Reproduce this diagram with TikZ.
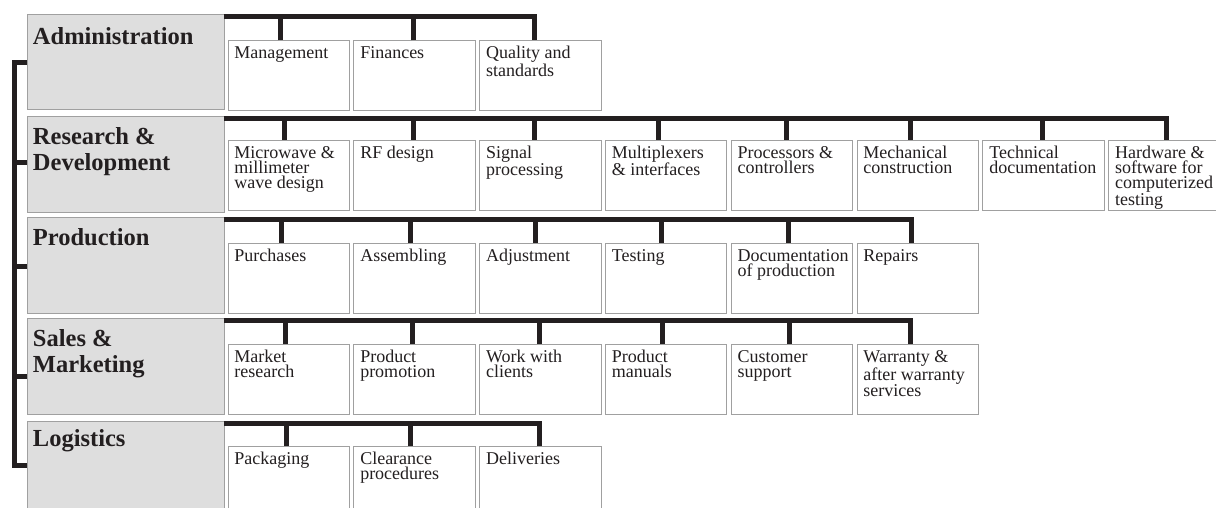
\documentclass[tikz,border=0pt]{standalone}
\usepackage{fontspec}
\setmainfont{Liberation Serif}
\definecolor{ink}{HTML}{231F20}
\definecolor{headgray}{HTML}{DEDEDE}
\definecolor{boxline}{HTML}{A0A0A0}
\newcommand\ctext[1]{\parbox[t][62.5pt][t]{108.5pt}{\raggedright\rule{0pt}{14.5pt}#1}}
\newcommand\htext[2][25pt]{\parbox[t][89.5pt][t]{185pt}{\raggedright\rule{0pt}{#1}#2}}
\tikzset{
  headbox/.style={draw=boxline, fill=headgray, line width=0.9pt, anchor=north west,
    inner xsep=6pt, inner ysep=3pt, text=ink, font=\fontsize{24.5pt}{26pt}\selectfont\bfseries},
  childbox/.style={draw=boxline, fill=white, line width=0.9pt, anchor=north west,
    inner xsep=6.5pt, inner ysep=3.5pt, text=ink, font=\fontsize{18pt}{15pt}\selectfont},
  bus/.style={draw=ink, line width=5pt, line cap=butt, line join=miter},
}
\begin{document}
\begin{tikzpicture}[x=1pt,y=-1pt]
\useasboundingbox (0,0) rectangle (1216,508);
\clip (0,0) rectangle (1216,508);
\fill[white] (0,0) rectangle (1216,508);

% headers
\node[headbox] (h1) at (26.5,14) {\htext[27.5pt]{Administration}};
\node[headbox] (h2) at (26.5,116) {\htext[25.5pt]{Research \&\\Development}};
\node[headbox] (h3) at (26.5,217) {\htext[24.7pt]{Production}};
\node[headbox] (h4) at (26.5,318.3) {\htext[24.5pt]{Sales \&\\Marketing}};
\node[headbox] (h5) at (26.5,420.7) {\htext[22.5pt]{Logistics}};

% bus start points
\foreach \k in {1,...,5} \coordinate (b\k) at ([yshift=-2.3pt]h\k.north east);

% Administration
\foreach \i/\t in {1/{Management},2/{Finances},3/{Quality and\\standards}}
  \node[childbox] (a\i) at ({227.5+125.8*(\i-1)},40.5) {\ctext{\t}};
\foreach \i/\d in {1/52.7,2/59.9}
  \draw[bus] ([xshift=\d pt]a\i.north west) -- ([xshift=\d pt]a\i.north west |- b1);
\draw[bus] (b1) -| ([xshift=55.4pt]a3.north west);

% Research & Development
\foreach \i/\t in {1/{Microwave \&\\millimeter\\wave design},2/{RF design},3/{Signal\\processing},
  4/{Multiplexers\\\& interfaces},5/{Processors \&\\controllers},6/{Mechanical\\construction},
  7/{Technical\\documentation},8/{Hardware \&\\software for\\computerized\\testing}}
  \node[childbox] (r\i) at ({227.5+125.8*(\i-1)},140) {\ctext{\t}};
\foreach \i/\d in {1/56.5,2/59.7,3/55.4,4/53.1,5/55.3,6/54,7/59.7}
  \draw[bus] ([xshift=\d pt]r\i.north west) -- ([xshift=\d pt]r\i.north west |- b2);
\draw[bus] (b2) -| ([xshift=58.4pt]r8.north west);

% Production
\foreach \i/\t in {1/{Purchases},2/{Assembling},3/{Adjustment},4/{Testing},
  5/{Documentation\\of production},6/{Repairs}}
  \node[childbox] (p\i) at ({227.5+125.8*(\i-1)},243) {\ctext{\t}};
\foreach \i/\d in {1/53.5,2/56.7,3/55.9,4/56.1,5/57.3}
  \draw[bus] ([xshift=\d pt]p\i.north west) -- ([xshift=\d pt]p\i.north west |- b3);
\draw[bus] (b3) -| ([xshift=54.5pt]p6.north west);

% Sales & Marketing
\foreach \i/\t in {1/{Market\\research},2/{Product\\promotion},3/{Work with\\clients},
  4/{Product\\manuals},5/{Customer\\support},6/{Warranty \&\\after warranty\\services}}
  \node[childbox] (s\i) at ({227.5+125.8*(\i-1)},344) {\ctext{\t}};
\foreach \i/\d in {1/57.5,2/58.7,3/59.9,4/57.1,5/58.3}
  \draw[bus] ([xshift=\d pt]s\i.north west) -- ([xshift=\d pt]s\i.north west |- b4);
\draw[bus] (b4) -| ([xshift=53.5pt]s6.north west);

% Logistics
\foreach \i/\t in {1/{Packaging},2/{Clearance\\procedures},3/{Deliveries}}
  \node[childbox] (l\i) at ({227.5+125.8*(\i-1)},446) {\ctext{\t}};
\foreach \i/\d in {1/58.5,2/56.7}
  \draw[bus] ([xshift=\d pt]l\i.north west) -- ([xshift=\d pt]l\i.north west |- b5);
\draw[bus] (b5) -| ([xshift=59.9pt]l3.north west);

% left spine
\coordinate (sp) at (14,0);
\coordinate (t1) at ([yshift=-49pt]h1.north west);
\coordinate (t2) at ([yshift=-47pt]h2.north west);
\coordinate (t3) at ([yshift=-49pt]h3.north west);
\coordinate (t4) at ([yshift=-58pt]h4.north west);
\coordinate (t5) at ([yshift=-44.5pt]h5.north west);
\draw[bus] (t1) -- (t1 -| sp) -- (t5 -| sp) -- (t5);
\draw[bus] (t2 -| sp) -- (t2);
\draw[bus] (t3 -| sp) -- (t3);
\draw[bus] (t4 -| sp) -- (t4);
\end{tikzpicture}
\end{document}
